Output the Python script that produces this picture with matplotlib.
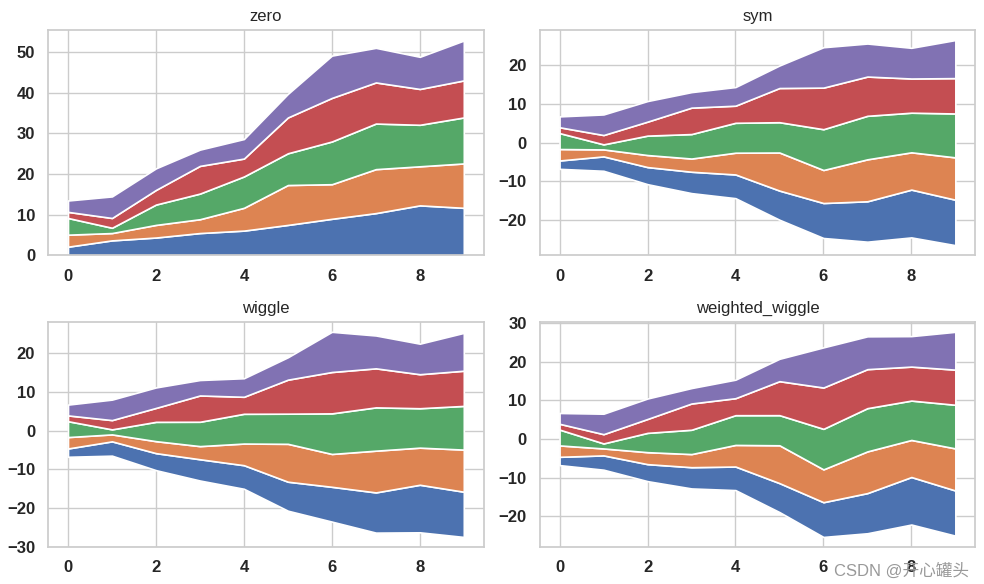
import numpy as np
import matplotlib
matplotlib.use("Agg")
import matplotlib.pyplot as plt
import seaborn as sns

sns.set_theme(style="whitegrid")
plt.rcParams['font.family'] = ['Liberation Sans', 'Noto Sans CJK SC', 'DejaVu Sans']

# values (5 stacked series, 10 points)
x = np.arange(10)
s1 = [2.15, 3.7, 4.4, 5.5, 6.1, 7.5, 9.0, 10.4, 12.3, 11.7]
s2 = [2.95, 1.8, 3.1, 3.4, 5.6, 9.8, 8.5, 10.8, 9.6, 10.9]
s3 = [4.1, 1.3, 5.0, 6.3, 7.7, 7.8, 10.5, 11.2, 10.2, 11.3]
s4 = [1.5, 2.4, 3.6, 6.8, 4.4, 8.8, 10.7, 10.1, 8.8, 9.1]
s5 = [2.8, 5.3, 5.3, 4.0, 4.8, 5.8, 10.4, 8.5, 7.9, 9.8]
baselines = ['zero', 'sym', 'wiggle', 'weighted_wiggle']

fig, axes = plt.subplots(2, 2, figsize=(9.84, 5.84), dpi=100)
for ax, bl in zip(axes.flat, baselines):
    ax.stackplot(x, s1, s2, s3, s4, s5, baseline=bl,
                 edgecolor='white', linewidth=1.2)
    ax.set_title(bl, fontsize=12)
    ax.set_xticks([0, 2, 4, 6, 8])
    ax.tick_params(labelsize=12)
    for lab in ax.get_xticklabels() + ax.get_yticklabels():
        lab.set_fontweight('bold')

plt.subplots_adjust(left=0.049, right=0.991, top=0.949, bottom=0.063,
                    wspace=0.129, hspace=0.293)
fig.text(0.985, 0.008, 'CSDN @开心罐头', ha='right', va='bottom',
         fontsize=12, color='#999999')
plt.savefig('out.png')
